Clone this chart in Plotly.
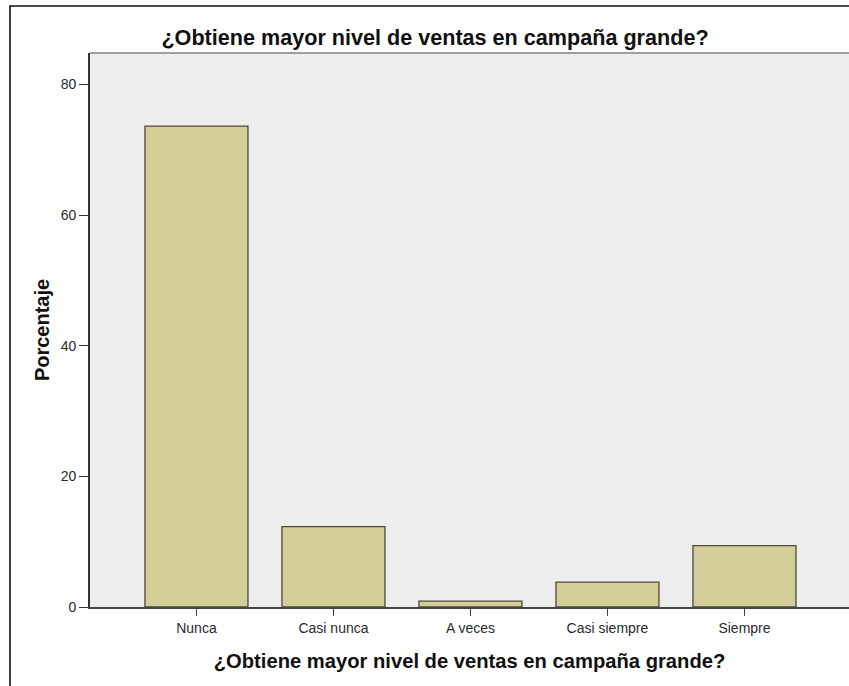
import plotly.graph_objects as go

# categories and percentages
categorias = ["Nunca", "Casi nunca", "A veces", "Casi siempre", "Siempre"]
porcentaje = [73.6, 12.3, 0.9, 3.8, 9.4]
y_ticks = [0, 20, 40, 60, 80]

titulo = "¿Obtiene mayor nivel de ventas en campaña grande?"

fig = go.Figure()
fig.add_trace(go.Bar(
    x=list(range(len(categorias))),
    y=porcentaje,
    marker=dict(color="#D3CE97", line=dict(color="#4a4a3c", width=1.3)),
    width=0.752,
    hoverinfo="y",
))

fig.update_layout(
    width=849,
    height=686,
    autosize=False,
    margin=dict(t=53, b=79, l=90, r=0),
    paper_bgcolor="white",
    plot_bgcolor="#eeeeee",
    showlegend=False,
    font=dict(family="Liberation Sans, Arial, sans-serif", color="#222222"),
    title=dict(
        text="<b>" + titulo + "</b>",
        font=dict(size=21.6, color="#111111"),
        x=435 / 849, xref="container", xanchor="center",
        y=1 - 37 / 686, yref="container", yanchor="middle",
    ),
)

fig.update_xaxes(
    range=[-0.777, 4.763],
    tickvals=list(range(len(categorias))),
    ticktext=categorias,
    tickfont=dict(size=14, color="#2a2a2a"),
    ticks="outside", ticklen=7, tickcolor="#444444", tickwidth=1.3,
    showline=True, linecolor="#444444", linewidth=1.6,
    showgrid=False, zeroline=False, automargin=False,
    title=dict(text="<b>" + titulo + "</b>", font=dict(size=20.2, color="#111111"), standoff=19),
)

fig.update_yaxes(
    range=[0, 84.8],
    tickvals=y_ticks,
    tickfont=dict(size=14, color="#2a2a2a"),
    ticks="outside", ticklen=9, tickcolor="#333333", tickwidth=1.3,
    showline=True, linecolor="#333333", linewidth=1.6,
    showgrid=False, zeroline=False, automargin=False,
    title=dict(text="<b>Porcentaje</b>", font=dict(size=20, color="#111111"), standoff=6),
)

# gray top edge of the plot area
fig.add_shape(type="line", xref="paper", yref="paper", x0=0, x1=1, y0=1, y1=1,
              line=dict(color="#808080", width=1.5))
# outer frame of the chart
fig.add_shape(type="rect", xref="paper", yref="paper",
              x0=(10 - 90) / 759, x1=1.05, y0=-0.3, y1=1 + (53 - 6) / 554,
              line=dict(color="#111111", width=1.6), fillcolor="rgba(0,0,0,0)", layer="above")

# no page margin, so the figure sits at the window's corner
fig.write_html("out.html", config={"displayModeBar": False},
               post_script="document.body.style.margin='0';")
